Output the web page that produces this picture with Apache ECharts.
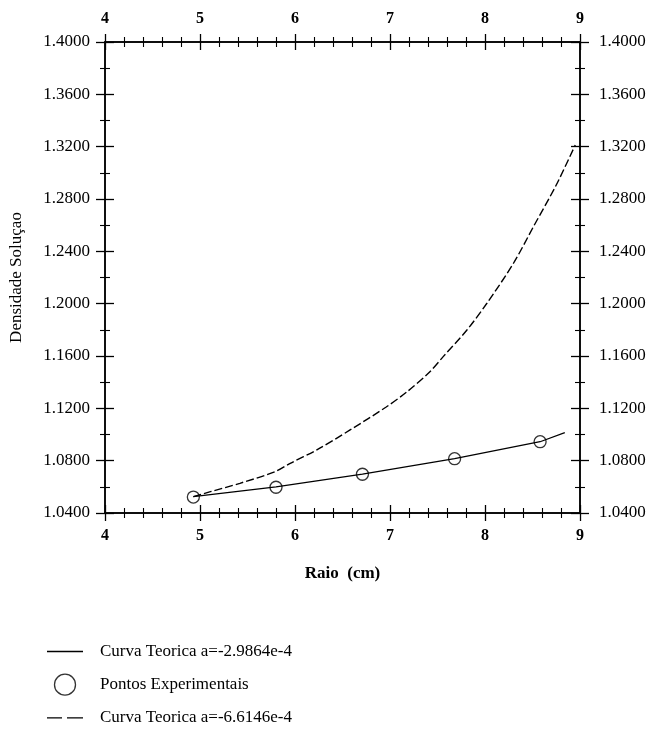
<!DOCTYPE html>
<html>
<head>
<meta charset="utf-8">
<script src="https://cdn.jsdelivr.net/npm/echarts@6/dist/echarts.min.js"></script>
<style>
  html, body { margin: 0; padding: 0; background: #fff; }
  #chart { width: 655px; height: 731px; }
</style>
</head>
<body>
<div id="chart"></div>
<script>
// Radius (cm) and solution density samples
const curveA_x = [4.93, 5.80, 6.71, 7.68, 8.58, 8.84];
const curveA_y = [1.0525, 1.0600, 1.0697, 1.0815, 1.0945, 1.1014];

const points_x = [4.93, 5.80, 6.71, 7.68, 8.58];
const points_y = [1.0522, 1.0597, 1.0696, 1.0815, 1.0945];

const curveB_x = [4.93, 5.11, 5.42, 5.79, 5.95, 6.23, 6.58, 6.96, 7.18, 7.42, 7.56, 7.81, 8.02, 8.30, 8.51, 8.75, 8.95];
const curveB_y = [1.0525, 1.0563, 1.0627, 1.0716, 1.0780, 1.0882, 1.1035, 1.1210, 1.1327, 1.1480, 1.1595, 1.1799, 1.2003, 1.2309, 1.2589, 1.2907, 1.3213];

const seriesNames = ['Curva Teorica a=-2.9864e-4', 'Pontos Experimentais', 'Curva Teorica a=-6.6146e-4'];
const xRange = { min: 4, max: 9, interval: 1 };
const yRange = { min: 1.04, max: 1.40, interval: 0.04 };

const zip = (xs, ys) => xs.map((x, i) => [x, ys[i]]);
const FONT = '"Liberation Serif", "Times New Roman", serif';
const INK = '#000';

// legend glyphs: a plain stroke and a broken stroke
const ICON_SOLID = 'path://M0,0 L36,0 L36,1.3 L0,1.3 Z';
const ICON_DASHED = 'path://M0,0 L15,0 L15,1.3 L0,1.3 Z M20,0 L36,0 L36,1.3 L20,1.3 Z';

function xAxisDef(position, showLabel, inside, extra) {
  return Object.assign({
    type: 'value', position: position,
    min: xRange.min, max: xRange.max, interval: xRange.interval,
    axisLine: { show: true, onZero: false, lineStyle: { color: INK, width: 1.5 } },
    axisTick: { show: true, inside: inside, length: 8, lineStyle: { color: INK, width: 1.3 } },
    minorTick: { show: true, splitNumber: 5, length: 5, lineStyle: { color: INK, width: 1.1 } },
    axisLabel: { show: showLabel, color: INK, fontFamily: FONT, fontSize: 16, fontWeight: 'bold', margin: 15 },
    splitLine: { show: false }, minorSplitLine: { show: false }
  }, extra || {});
}

function yAxisDef(position, showLabel, inside, margin, extra) {
  return Object.assign({
    type: 'value', position: position,
    min: yRange.min, max: yRange.max, interval: yRange.interval,
    axisLine: { show: true, onZero: false, lineStyle: { color: INK, width: 1.5 } },
    axisTick: { show: true, inside: inside, length: 9, lineStyle: { color: INK, width: 1.3 } },
    minorTick: { show: true, splitNumber: 2, length: 5, lineStyle: { color: INK, width: 1.1 } },
    axisLabel: { show: showLabel, color: INK, fontFamily: FONT, fontSize: 17, margin: margin,
      formatter: v => v.toFixed(4) },
    splitLine: { show: false }, minorSplitLine: { show: false }
  }, extra || {});
}

const chart = echarts.init(document.getElementById('chart'), null, { renderer: 'canvas' });
chart.setOption({
  animation: false,
  backgroundColor: '#fff',
  grid: { left: 105, right: 75, top: 42, bottom: 218, containLabel: false },
  xAxis: [
    xAxisDef('bottom', true, false, {
      name: 'Raio  (cm)', nameLocation: 'middle', nameGap: 52,
      nameTextStyle: { color: INK, fontFamily: FONT, fontSize: 17, fontWeight: 'bold' }
    }),
    xAxisDef('bottom', false, true),
    xAxisDef('top', true, false),
    xAxisDef('top', false, true)
  ],
  yAxis: [
    yAxisDef('left', true, false, 15, {
      name: 'Densidade Soluçao', nameLocation: 'middle', nameGap: 80, nameRotate: 90,
      nameTextStyle: { color: INK, fontFamily: FONT, fontSize: 17 }
    }),
    yAxisDef('left', false, true, 15),
    yAxisDef('right', true, false, 19),
    yAxisDef('right', false, true, 19)
  ],
  legend: {
    orient: 'vertical', left: 47, top: 643, padding: 0,
    itemWidth: 36, itemHeight: 21, itemGap: 13.5,
    textStyle: { color: INK, fontFamily: FONT, fontSize: 17, padding: [0, 0, 0, 12] },
    data: [
      { name: seriesNames[0], icon: ICON_SOLID, itemStyle: { color: INK, borderWidth: 0 } },
      { name: seriesNames[1], icon: 'circle', itemStyle: { color: 'rgba(255,255,255,0)', borderColor: INK, borderWidth: 1.3 } },
      { name: seriesNames[2], icon: ICON_DASHED, itemStyle: { color: INK, borderWidth: 0 } }
    ]
  },
  series: [
    {
      name: seriesNames[0], type: 'line', xAxisIndex: 0, yAxisIndex: 0,
      data: zip(curveA_x, curveA_y), showSymbol: false, symbol: 'none',
      lineStyle: { color: INK, width: 1.2 }, itemStyle: { color: INK }, z: 3
    },
    {
      name: seriesNames[1], type: 'scatter', xAxisIndex: 0, yAxisIndex: 0,
      data: zip(points_x, points_y), symbol: 'circle', symbolSize: 12,
      itemStyle: { color: 'rgba(255,255,255,0)', borderColor: INK, borderWidth: 1.3 }, z: 4
    },
    {
      name: seriesNames[2], type: 'line', xAxisIndex: 0, yAxisIndex: 0,
      data: zip(curveB_x, curveB_y), showSymbol: false, symbol: 'none', smooth: 0.3,
      lineStyle: { color: INK, width: 1.4, type: [8, 3] }, itemStyle: { color: INK }, z: 3
    }
  ]
});
</script>
</body>
</html>
